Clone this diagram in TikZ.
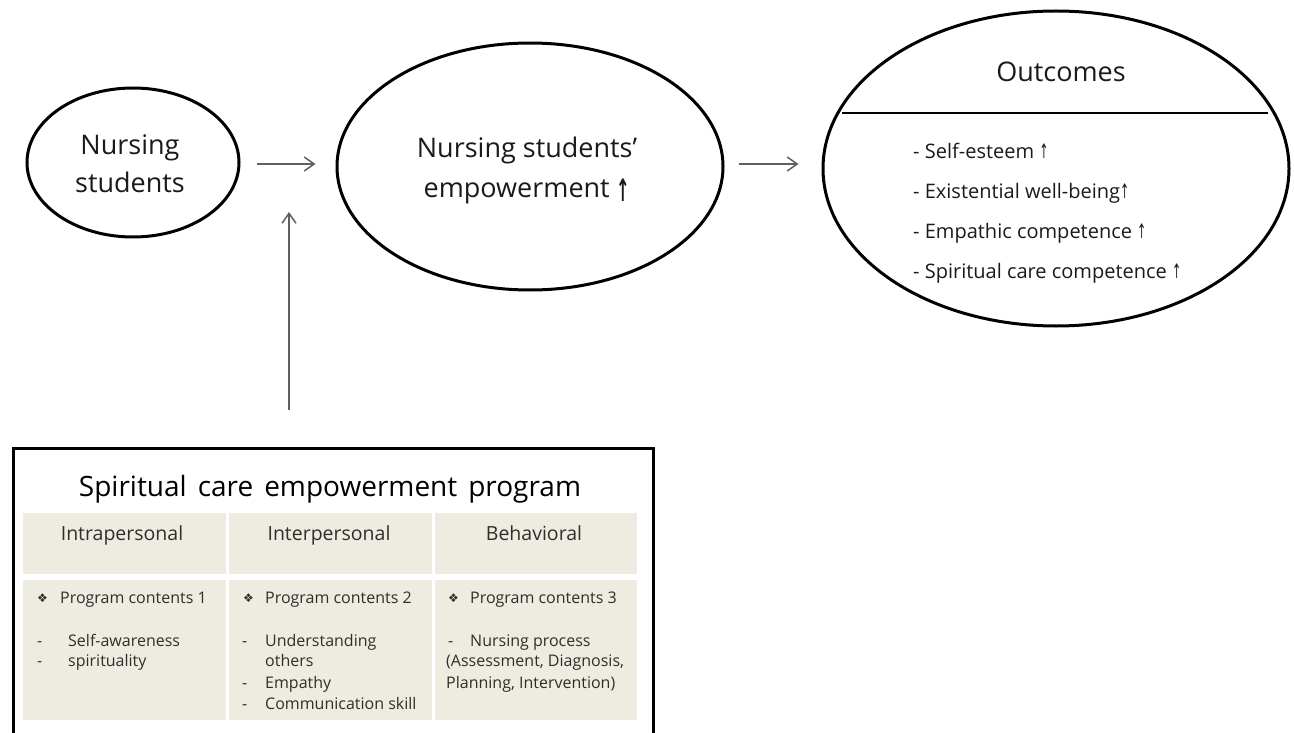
\documentclass[tikz,border=0pt]{standalone}
\usepackage{graphicx}
\usepackage{fontspec}
\setmainfont{Open Sans}
\newfontfamily\symfont{DejaVu Sans}
\usetikzlibrary{shapes.geometric,arrows.meta}
\definecolor{ink}{HTML}{1A1A1A}
\definecolor{tabtext}{HTML}{2E2E2E}
\definecolor{cellfill}{HTML}{EEECE1}
\definecolor{arrowgray}{HTML}{606060}
% slim upward arrow used as the "increase" mark
\newcommand{\incr}{{\symfont\scalebox{0.55}[1]{↑}}}
% taller, heavier version for the central stage
\newcommand{\bigincr}{{\symfont\bfseries\raisebox{-4pt}{\scalebox{0.6}[1.15]{↑}}}}

\begin{document}
\begin{tikzpicture}[x=1pt,y=-1pt,
  oval/.style={ellipse, draw=black, line width=3pt, inner sep=0pt},
  lbl/.style={anchor=base, inner sep=0pt, text=ink, font=\fontsize{27}{37}\selectfont},
  item/.style={anchor=base west, inner sep=0pt, text=ink, font=\fontsize{20}{24}\selectfont},
  flow/.style={draw=arrowgray, line width=1.5pt, -{Straight Barb[length=10pt,width=14pt,line width=1.5pt]}},
  cell/.style={anchor=north west, fill=cellfill, inner sep=0pt},
  head/.style={anchor=base, inner sep=0pt, text=tabtext, font=\fontsize{19.5}{24}\selectfont},
  body/.style={anchor=base west, inner sep=0pt, text=tabtext, font=\fontsize{16}{20}\selectfont},
  bullet/.style={anchor=base west, inner sep=0pt, text=tabtext, font=\symfont\fontsize{12}{14}\selectfont},
]
\useasboundingbox (0,0) rectangle (1294,733);

% --- the three stages -------------------------------------------------
\node[oval, minimum width=212pt, minimum height=149pt] (stud) at (133,162.5) {};
\node[oval, minimum width=386pt, minimum height=247pt] (emp) at (530,166.5) {};
\node[oval, minimum width=466pt, minimum height=315pt] (out) at (1056,168.5) {};

\node[lbl] (studA) at (130,155) {Nursing};
\node[lbl] (studB) at (130,193) {students};
\node[lbl] (empA) at (527,158) {Nursing students’};
\node[lbl] (empB) at (527,197) {empowerment \bigincr};

% outcomes: heading, divider and list
\node[lbl] (outT) at (1061,82) {Outcomes};
\draw[line width=1.2pt] (842,113) -- (1268,113);
\node[item] (o1) at (913,159) {- Self-esteem \incr};
\node[item] (o2) at (913,199) {- Existential well-being\incr};
\node[item] (o3) at (913,238) {- Empathic competence \incr};
\node[item] (o4) at (913,278) {- Spiritual care competence \incr};

% --- program box -------------------------------------------------------
\node[draw=black, line width=3pt, anchor=north west, minimum width=640pt,
      minimum height=330pt, inner sep=0pt] (prog) at (12,447) {};
\node[anchor=base, inner sep=0pt, text=black, font=\fontsize{28}{32}\selectfont] (progT)
  at (330,496) {Spiritual\hspace{11pt}care\hspace{11pt}empowerment\hspace{11pt}program};

\node[cell, minimum width=203pt, minimum height=61pt] (h1) at (23,513) {};
\node[cell, minimum width=203pt, minimum height=61pt] (h2) at (229,513) {};
\node[cell, minimum width=202pt, minimum height=61pt] (h3) at (435,513) {};
\node[cell, minimum width=203pt, minimum height=140pt] (b1) at (23,580) {};
\node[cell, minimum width=203pt, minimum height=140pt] (b2) at (229,580) {};
\node[cell, minimum width=202pt, minimum height=140pt] (b3) at (435,580) {};

\node[head] (h1t) at (122,540) {Intrapersonal};
\node[head] (h2t) at (329,540) {Interpersonal};
\node[head] (h3t) at (534,540) {Behavioral};

% column 1
\node[bullet] (k1) at (37,602) {❖};
\node[body] (p1) at (60,603) {Program contents 1};
\node[body] (d1a) at (37,646) {-};
\node[body] (s1a) at (68,646) {Self-awareness};
\node[body] (d1b) at (37,666) {-};
\node[body] (s1b) at (68,666) {spirituality};
% column 2
\node[bullet] (k2) at (243,602) {❖};
\node[body] (p2) at (265,603) {Program contents 2};
\node[body] (d2a) at (242,646) {-};
\node[body] (s2a) at (265,646) {Understanding};
\node[body] (s2b) at (265,666) {others};
\node[body] (d2c) at (242,688) {-};
\node[body] (s2c) at (265,688) {Empathy};
\node[body] (d2d) at (242,709) {-};
\node[body] (s2d) at (265,709) {Communication skill};
% column 3
\node[bullet] (k3) at (448,602) {❖};
\node[body] (p3) at (470,603) {Program contents 3};
\node[body] (d3a) at (448,646) {-};
\node[body] (s3a) at (470,646) {Nursing process};
\node[body] (s3b) at (446,666) {(Assessment, Diagnosis,};
\node[body] (s3c) at (446,688) {Planning, Intervention)};

% --- connectors --------------------------------------------------------
\draw[flow, shorten <=16pt, shorten >=20pt]
  ([yshift=-1.5pt]stud.east) -- ([yshift=-1.5pt]stud.east -| emp.west);
\draw[flow, shorten <=14pt, shorten >=23pt]
  ([yshift=2.5pt]emp.east) -- ([yshift=2.5pt]emp.east -| out.west);
\coordinate (join) at (289,212);
\draw[flow, shorten <=37pt] (prog.north -| join) -- (join);
\end{tikzpicture}
\end{document}
